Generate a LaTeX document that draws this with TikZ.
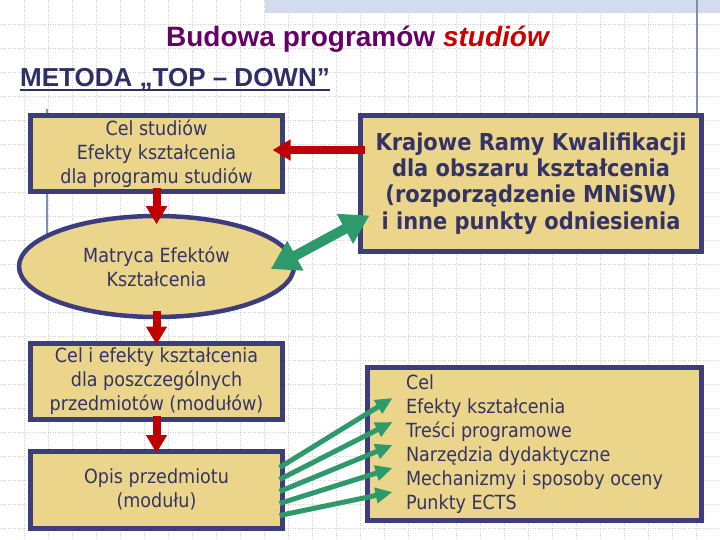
\documentclass[tikz,border=0pt]{standalone}
\usepackage{fontspec}
\setmainfont[FakeStretch=0.9]{DejaVu Sans}
\newfontfamily\titlefont{Liberation Sans}
\usetikzlibrary{arrows.meta,shapes.geometric}
\definecolor{boxfill}{HTML}{EAD58A}
\definecolor{boxline}{HTML}{3D3D7D}
\definecolor{txt}{HTML}{333366}
\definecolor{redarr}{HTML}{C00000}
\definecolor{greenarr}{HTML}{2E9A6C}
\definecolor{titlepurple}{HTML}{660066}
\definecolor{titlered}{HTML}{CC0000}
\definecolor{headnavy}{HTML}{2F2F66}
\definecolor{gridc}{HTML}{CFCFCF}
\definecolor{bandc}{HTML}{D3DCEF}
\definecolor{decoline}{HTML}{7F8FB5}
\newcommand\myul[1]{\setbox0\hbox{#1}\rlap{\rule[-4pt]{\wd0}{2pt}}\box0}
\tikzset{
  gridline/.style={gridc, line width=0.8pt, dash pattern=on 1pt off 1.5pt},
  box/.style={draw=boxline, line width=5pt, fill=boxfill, text=txt, inner sep=0pt, align=center,
    font=\fontsize{19.5}{24}\selectfont},
  redarrow/.style={redarr, line width=8pt, -{Triangle[width=20pt,length=18pt]}},
  bigdouble/.style={greenarr, line width=10pt, {Triangle[width=32pt,length=28pt]}-{Triangle[width=32pt,length=28pt]}},
  smallgreen/.style={greenarr, line width=5pt, -{Triangle[width=15pt,length=17pt]}},
  deco/.style={decoline, line width=1.5pt}
}
\begin{document}
\begin{tikzpicture}[x=1pt,y=-1pt]
\useasboundingbox (0,0) rectangle (720,540);
\fill[white] (0,0) rectangle (720,540);
% background grid
\foreach \x in {24,48,...,720} \draw[gridline] (\x,0) -- (\x,540);
\foreach \y in {24,48,...,528} \draw[gridline] (0,\y) -- (720,\y);
% template decorations
\fill[bandc] (265,0) rectangle (720,13);
\draw[deco] (697,0) -- (697,114);
\draw[deco] (47,109) -- (47,236);
% title and heading
\node[anchor=base, inner sep=0pt, font=\titlefont\bfseries\fontsize{28}{32}\selectfont] (title) at (357.5,47)
  {\textcolor{titlepurple}{Budowa programów} \textcolor{titlered}{\itshape studiów}};
\node[anchor=base west, inner sep=0pt, text=headnavy, font=\titlefont\bfseries\fontsize{26}{30}\selectfont] (head) at (20,87)
  {\myul{METODA „TOP – DOWN”}};
% boxes
\node[box, minimum width=252pt, minimum height=76pt] (b1) at (156.5,153.5)
  {Cel studiów\\Efekty kształcenia\\dla programu studiów};
\node[box, ellipse, line width=4.5pt, minimum width=275pt, minimum height=101pt] (ell) at (156.5,266.5)
  {Matryca Efektów\\Kształcenia};
\node[box, minimum width=252pt, minimum height=76pt] (b3) at (156.5,381.5)
  {Cel i efekty kształcenia\\dla poszczególnych\\przedmiotów (modułów)};
\node[box, minimum width=252pt, minimum height=77pt] (b4) at (156.5,489.5)
  {Opis przedmiotu\\(modułu)};
\node[box, minimum width=341pt, minimum height=136pt, font=\bfseries\fontsize{23.3}{26.3}\selectfont] (krk) at (531,183.5)
  {Krajowe Ramy Kwalifikacji\\dla obszaru kształcenia\\(rozporządzenie MNiSW)\\i inne punkty odniesienia};
\node[box, align=left, minimum width=334pt, minimum height=153pt] (b6) at (534.5,444)
  {Cel\\Efekty kształcenia\\Treści programowe\\Narzędzia dydaktyczne\\Mechanizmy i sposoby oceny\\Punkty ECTS};
% red arrows
\draw[redarrow] ([yshift=5.5pt]b1.south) -- ([yshift=-10.5pt]ell.north);
\draw[redarrow] ([yshift=8.5pt]ell.south) -- ([yshift=-3.5pt]b3.north);
\draw[redarrow] ([yshift=6.5pt]b3.south) -- ([yshift=-4.5pt]b4.north);
\draw[redarrow] ([xshift=7pt,yshift=33.5pt]krk.west) -- ([xshift=-12.5pt,yshift=3.5pt]b1.east);
% green arrows
\draw[bigdouble] ([xshift=-25.5pt,yshift=-2.5pt]ell.east) -- ([xshift=11.5pt,yshift=38.5pt]krk.south west);
\draw[smallgreen] ([xshift=-5.5pt,yshift=22pt]b4.east) -- ([xshift=27.5pt,yshift=46pt]b6.west);
\draw[smallgreen] ([xshift=-5.5pt,yshift=10pt]b4.east) -- ([xshift=27.5pt,yshift=22pt]b6.west);
\draw[smallgreen] ([xshift=-5.5pt,yshift=-2pt]b4.east) -- ([xshift=27.5pt,yshift=-1pt]b6.west);
\draw[smallgreen] ([xshift=-5.5pt,yshift=-14pt]b4.east) -- ([xshift=27.5pt,yshift=-24pt]b6.west);
\draw[smallgreen] ([xshift=-5.5pt,yshift=-26pt]b4.east) -- ([xshift=27.5pt,yshift=-48pt]b6.west);
\end{tikzpicture}
\end{document}
